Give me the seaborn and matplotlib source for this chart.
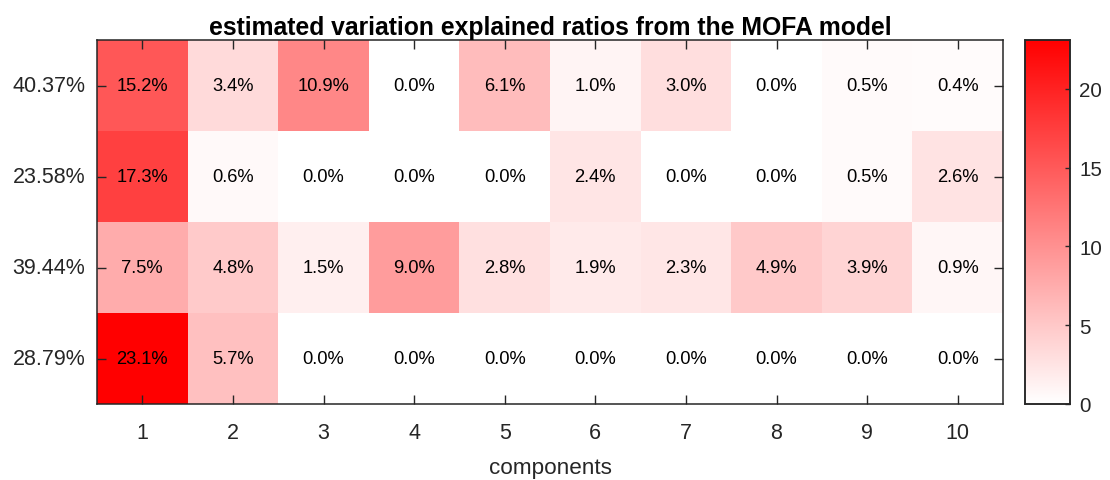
import numpy as np
import pandas as pd
import matplotlib
matplotlib.use("Agg")
import matplotlib.pyplot as plt
import seaborn as sns
from matplotlib.colors import LinearSegmentedColormap

row_labels = ["40.37%", "23.58%", "39.44%", "28.79%"]
components = ["1", "2", "3", "4", "5", "6", "7", "8", "9", "10"]
row_a = [15.2, 3.4, 10.9, 0.0, 6.1, 1.0, 3.0, 0.0, 0.5, 0.4]
row_b = [17.3, 0.6, 0.0, 0.0, 0.0, 2.4, 0.0, 0.0, 0.5, 2.6]
row_c = [7.5, 4.8, 1.5, 9.0, 2.8, 1.9, 2.3, 4.9, 3.9, 0.9]
row_d = [23.1, 5.7, 0.0, 0.0, 0.0, 0.0, 0.0, 0.0, 0.0, 0.0]
cbar_ticks = [0, 5, 10, 15, 20]

sns.set_style("white")
plt.rcParams['font.family'] = ['Liberation Sans', 'DejaVu Sans']

data = pd.DataFrame([row_a, row_b, row_c, row_d], index=row_labels, columns=components)
labels = data.map(lambda v: f"{v:.1f}%")

cmap = LinearSegmentedColormap.from_list("wr", ["#ffffff", "#ff0000"])

fig = plt.figure(figsize=(11.10, 4.81), dpi=100)
ax = fig.add_axes([97/1110, 1 - 405/481, 906/1110, 364/481])
cax = fig.add_axes([1025/1110, 1 - 405/481, 45/1110, 364/481])

sns.heatmap(data, ax=ax, cbar_ax=cax, cmap=cmap, vmin=0, vmax=float(np.max(data.values)),
            annot=labels, fmt="", annot_kws={"fontsize": 13.2, "color": "black"},
            cbar_kws={"ticks": cbar_ticks})

edge = "#262626"
ax.set_axisbelow(False)
ax.set_title("estimated variation explained ratios from the MOFA model",
             fontsize=17.8, fontweight="bold", color="black", pad=4)
ax.set_xlabel("components", fontsize=16.2, color=edge, labelpad=10)
ax.set_ylabel("")
ax.tick_params(axis="both", direction="in", length=6.5, width=1.0, color=edge,
               labelcolor=edge, labelsize=15.5, top=True, right=True, bottom=True, left=True)
ax.tick_params(axis="x", pad=13)
ax.tick_params(axis="y", rotation=0, pad=8.5)
for s in ax.spines.values():
    s.set_visible(True)
    s.set_color(edge)
    s.set_linewidth(1.1)

cax.set_axisbelow(False)
cax.tick_params(direction="in", length=3.5, width=1.0, color=edge, labelcolor=edge,
                labelsize=14.8, pad=6.5)
for s in cax.spines.values():
    s.set_visible(True)
    s.set_color(edge)
    s.set_linewidth(1.1)

fig.savefig("out.png", dpi=100)
